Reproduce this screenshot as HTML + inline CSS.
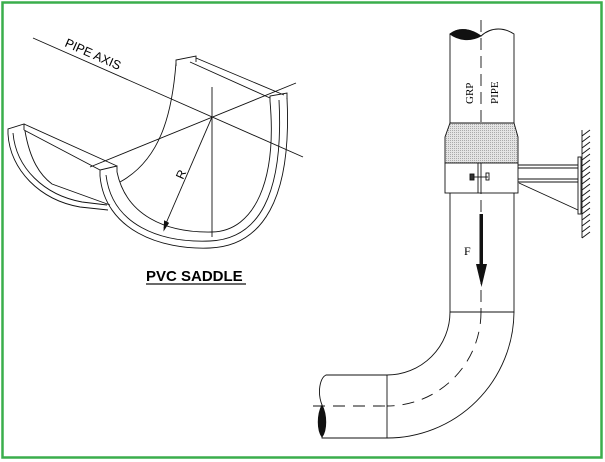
<!DOCTYPE html>
<html><head><style>html,body{margin:0;padding:0;background:#fff}svg{display:block}</style></head>
<body>
<svg width="605" height="462" viewBox="0 0 605 462" xmlns="http://www.w3.org/2000/svg" font-family="Liberation Sans, sans-serif">
<defs>
<pattern id="mesh" width="2" height="2" patternUnits="userSpaceOnUse"><rect width="2" height="2" fill="#e4e4e4"/><rect width="1" height="1" fill="#aaa"/></pattern>
</defs>
<rect x="2.5" y="2.5" width="599" height="455" fill="#fff" stroke="#3aae4c" stroke-width="2.5"/>
<g fill="none" stroke="#111" stroke-width="0.9">
<!-- saddle axes -->
<line x1="33" y1="38" x2="303" y2="157"/>
<line x1="90" y1="167" x2="296" y2="83"/>
<line x1="212" y1="87" x2="212" y2="237"/>
<line x1="212" y1="117" x2="164" y2="228"/>
<path d="M164 230 l0.5 -9 l4 2 z" fill="#111"/>
<!-- back flange -->
<path d="M176 66 L176 60 L196 56 L196 62"/>
<path d="M190 62 L270 98 M196 58 L284 95"/>
<path d="M176 63 C172 115 160 160 120 182"/>
<!-- left end -->
<path d="M8 134 L8 129 L24 124 L24 130"/>
<path d="M24 124 L117 166 M24 130 L100 170"/>
<path d="M8 134 C10 170 40 200 80 207 L108 210"/>
<path d="M13 133 C16 168 44 195 82 202 L107 205"/>
<path d="M25 131 C30 160 40 175 52 184 L110 205"/>
<!-- front piece -->
<path d="M100 176 L100 170 L117 166 L117 172"/>
<path d="M100 176 C105 230 160 250 210 248 C262 246 292 200 287 98"/>
<path d="M106 175 C112 225 160 243 210 241 C258 239 284 196 279 100"/>
<path d="M117 172 C126 215 165 233 212 232 C255 231 277 180 270 101"/>
<path d="M270 101 L270 96 L287 93 L287 99"/>
<!-- vertical pipe -->
<path d="M450 312 L450 34 C460 26 472 30 481 36 C492 26 505 28 514 34 L514 312 Z"/>
<path d="M450 34 C460 26 472 30 481 36 C470 42 458 40 450 34 Z" fill="#111"/>
<line x1="481" y1="20" x2="481" y2="312" stroke-dasharray="12,6"/>
<!-- collar -->
<path d="M450 123 L514 123 L518 137 L518 163 L445 163 L445 137 Z" fill="url(#mesh)"/>
<rect x="445" y="163" width="73" height="30" fill="#fff"/>
<line x1="481" y1="163" x2="481" y2="193"/>
<line x1="478" y1="163" x2="478" y2="193"/>
<rect x="470" y="174" width="4" height="6" fill="#333"/>
<line x1="474" y1="177" x2="488" y2="177"/>
<rect x="486" y="173" width="3" height="7"/>
<!-- bracket -->
<line x1="518" y1="165" x2="578" y2="165"/><line x1="518" y1="168" x2="578" y2="168"/>
<line x1="518" y1="179" x2="578" y2="179"/><line x1="518" y1="182" x2="578" y2="182"/>
<line x1="519" y1="183" x2="578" y2="210"/>
<rect x="578" y="157" width="3" height="57"/>
<line x1="582" y1="130" x2="582" y2="238"/>
<path d="M582 136 l8 -6 M582 142 l8 -6 M582 148 l8 -6 M582 154 l8 -6 M582 160 l8 -6 M582 166 l8 -6 M582 172 l8 -6 M582 178 l8 -6 M582 184 l8 -6 M582 190 l8 -6 M582 196 l8 -6 M582 202 l8 -6 M582 208 l8 -6 M582 214 l8 -6 M582 220 l8 -6 M582 226 l8 -6 M582 232 l8 -6 M582 238 l8 -6"/>
<!-- bend -->
<path d="M450 312 A63 63 0 0 1 387 375"/>
<path d="M514 312 A127 127 0 0 1 387 438"/>
<path d="M481 312 A94 94 0 0 1 387 406" stroke-dasharray="12,8"/>
<line x1="387" y1="375" x2="387" y2="438"/>
<path d="M387 375 L326 375 C320 378 317 392 322 405 L322 438 L387 438"/>
<path d="M322 405 C317 415 317 430 322 437 C327 430 327 415 322 405 Z" fill="#111"/>
<line x1="313" y1="406" x2="387" y2="406" stroke-dasharray="12,8"/>
</g>
<!-- arrow -->
<rect x="479.5" y="214" width="3.5" height="55" fill="#111"/>
<path d="M476 264 L487 264 L481.5 287 Z" fill="#111"/>
<text x="464" y="255" font-family="Liberation Serif, serif" font-size="12">F</text>
<text transform="translate(473,104) rotate(-90)" font-family="Liberation Serif, serif" font-size="11">GRP</text>
<text transform="translate(498,104) rotate(-90)" font-family="Liberation Serif, serif" font-size="11">PIPE</text>
<text transform="translate(64,46) rotate(23.8)" font-size="12.5">PIPE AXIS</text>
<text transform="translate(183,180) rotate(-66)" font-size="12">R</text>
<text x="146" y="281" font-size="15" font-weight="bold">PVC SADDLE</text>
<line x1="146" y1="284" x2="246" y2="284" stroke="#111" stroke-width="1.3"/>
</svg>
</body></html>
